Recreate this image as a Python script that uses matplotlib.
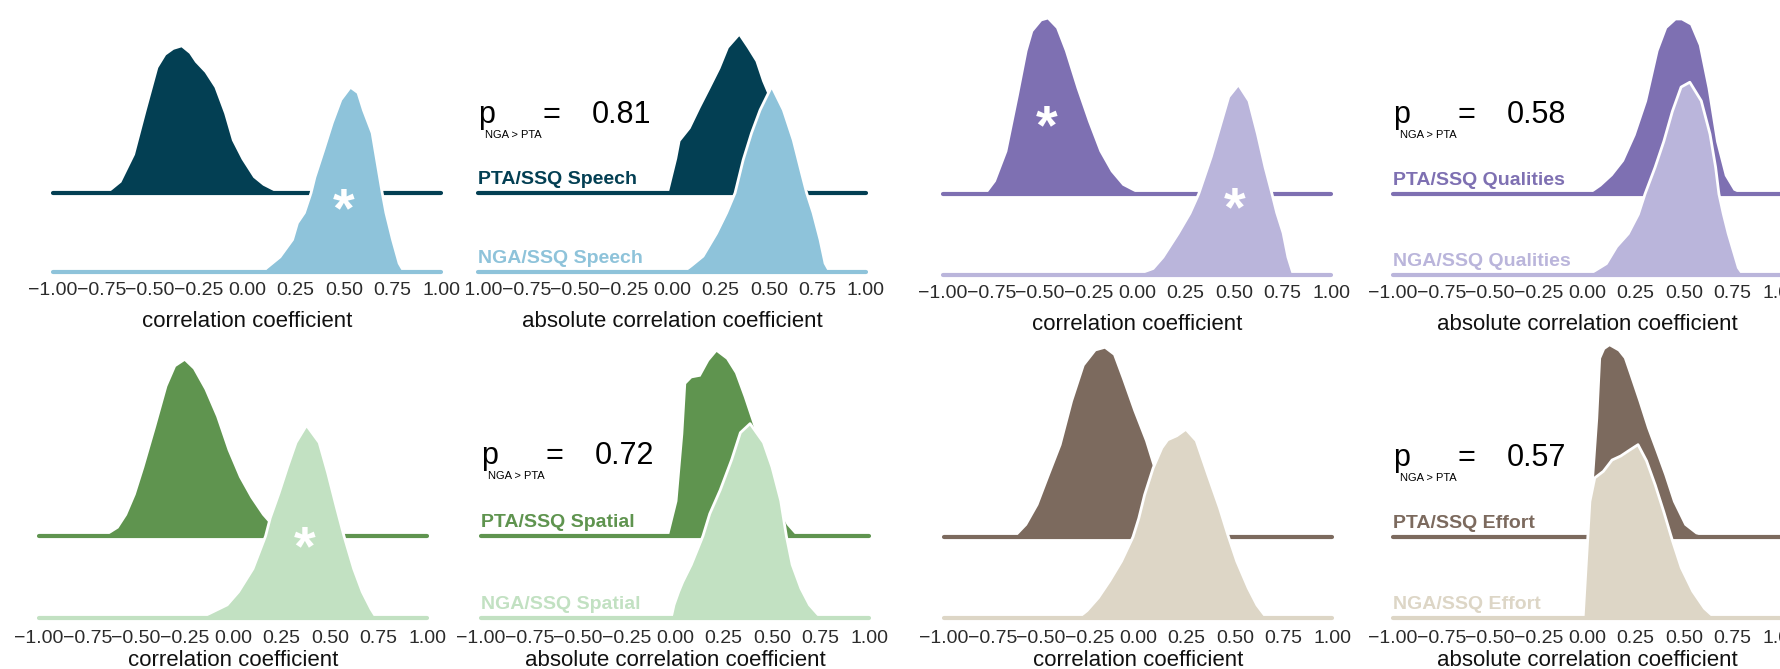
import matplotlib.pyplot as plt
from matplotlib.transforms import Bbox, offset_copy

plt.rcParams['font.family'] = ['Liberation Sans', 'DejaVu Sans']

# ---- densities (x, scaled density; 1 = ridge spacing) ----
# Speech
speech_r_pta_x = [-0.72, -0.65, -0.58, -0.52, -0.46, -0.42, -0.38, -0.34, -0.30, -0.27, -0.22, -0.17, -0.12, -0.08, -0.03, 0.03, 0.08, 0.16]
speech_r_pta_y = [0, .14, .49, 1.05, 1.59, 1.75, 1.82, 1.85, 1.77, 1.66, 1.53, 1.34, 1.01, .67, .43, .20, .10, 0]
speech_r_nga_x = [0.08, 0.10, 0.17, 0.235, 0.26, 0.296, 0.33, 0.35, 0.395, 0.44, 0.484, 0.533, 0.572, 0.60, 0.645, 0.697, 0.716, 0.75, 0.784, 0.81]
speech_r_nga_y = [0, .05, .19, .41, .62, .75, 1.0, 1.2, 1.54, 1.89, 2.18, 2.34, 2.27, 2.05, 1.76, 1.0, .75, .41, .11, 0]
speech_abs_pta_x = [-0.02, 0.024, 0.041, 0.093, 0.144, 0.196, 0.247, 0.29, 0.344, 0.385, 0.428, 0.462, 0.5, 0.55, 0.6, 0.65, 0.694, 0.72]
speech_abs_pta_y = [0, .44, .66, .82, 1.08, 1.33, 1.58, 1.84, 1.99, 1.84, 1.67, 1.42, 1.2, .86, .51, .19, .04, 0]
speech_abs_nga_x = [0.057, 0.10, 0.16, 0.23, 0.282, 0.325, 0.367, 0.41, 0.454, 0.514, 0.574, 0.625, 0.668, 0.694, 0.727, 0.763, 0.789, 0.814]
speech_abs_nga_y = [0, .08, .2, .49, .75, 1.0, 1.42, 1.76, 2.05, 2.35, 2.05, 1.67, 1.25, 1.0, .75, .41, .11, 0]

# Qualities
qual_r_pta_x = [-0.78, -0.73, -0.671, -0.612, -0.567, -0.538, -0.493, -0.463, -0.419, -0.374, -0.314, -0.255, -0.196, -0.137, -0.077, 0.012]
qual_r_pta_y = [0, .16, .53, 1.22, 1.77, 2.01, 2.14, 2.16, 2.05, 1.77, 1.31, .9, .53, .28, .11, 0]
qual_r_nga_x = [-0.1, 0.015, 0.083, 0.134, 0.212, 0.273, 0.318, 0.383, 0.428, 0.473, 0.523, 0.577, 0.621, 0.66, 0.696, 0.72, 0.753, 0.778, 0.804, 0.83]
qual_r_nga_y = [0, .02, .08, .22, .51, .76, 1.0, 1.46, 1.83, 2.2, 2.35, 2.15, 1.74, 1.33, 1.0, .77, .52, .22, .02, 0]
qual_abs_pta_x = [0.01, 0.07, 0.129, 0.188, 0.248, 0.307, 0.366, 0.41, 0.456, 0.485, 0.53, 0.574, 0.619, 0.663, 0.708, 0.753, 0.797]
qual_abs_pta_y = [0, .1, .23, .41, .73, 1.15, 1.77, 2.05, 2.15, 2.15, 2.09, 1.84, 1.31, .65, .23, .05, 0]
qual_abs_nga_x = [-0.002, 0.032, 0.1, 0.153, 0.213, 0.265, 0.299, 0.351, 0.396, 0.44, 0.485, 0.53, 0.589, 0.634, 0.663, 0.68, 0.703, 0.728, 0.754, 0.78, 0.806]
qual_abs_nga_y = [0, .04, .14, .35, .51, .75, 1.0, 1.33, 1.65, 2.02, 2.32, 2.38, 2.15, 1.74, 1.33, 1.0, .75, .51, .3, .09, 0]

# Spatial
spat_r_pta_x = [-0.66, -0.593, -0.549, -0.504, -0.46, -0.40, -0.341, -0.297, -0.252, -0.208, -0.149, -0.089, -0.03, 0.029, 0.088, 0.148, 0.2, 0.25, 0.3, 0.35]
spat_r_pta_y = [0, .1, .26, .51, .84, 1.33, 1.83, 2.07, 2.14, 2.04, 1.79, 1.46, 1.05, .72, .47, .26, .12, .05, .01, 0]
spat_r_nga_x = [-0.19, -0.134, -0.03, 0.029, 0.103, 0.168, 0.192, 0.237, 0.281, 0.325, 0.379, 0.444, 0.488, 0.533, 0.572, 0.622, 0.666, 0.711, 0.74]
spat_r_nga_y = [0, .04, .16, .32, .6, 1.0, 1.22, 1.52, 1.84, 2.14, 2.35, 2.14, 1.77, 1.35, 1.0, .6, .32, .11, 0]
spat_abs_pta_x = [-0.035, 0.01, 0.04, 0.055, 0.084, 0.129, 0.173, 0.212, 0.262, 0.307, 0.352, 0.4, 0.45, 0.5, 0.55, 0.574, 0.619, 0.66]
spat_abs_pta_y = [0, .43, 1.25, 1.86, 1.93, 1.95, 2.14, 2.25, 2.16, 1.99, 1.7, 1.36, .99, .62, .25, .14, .02, 0]
spat_abs_nga_x = [-0.02, -0.005, 0.019, 0.04, 0.084, 0.144, 0.179, 0.233, 0.292, 0.337, 0.387, 0.456, 0.5, 0.545, 0.574, 0.604, 0.649, 0.693, 0.738, 0.77]
spat_abs_nga_y = [0, .16, .32, .44, .65, 1.0, 1.27, 1.56, 1.93, 2.26, 2.37, 2.14, 1.84, 1.43, 1.0, .65, .36, .16, .04, 0]

# Effort
eff_r_pta_x = [-0.635, -0.575, -0.516, -0.457, -0.397, -0.338, -0.278, -0.219, -0.174, -0.13, -0.085, -0.026, 0.034, 0.078, 0.1, 0.15, 0.2, 0.25, 0.3, 0.35, 0.4, 0.47]
eff_r_pta_y = [0, .15, .4, .77, 1.14, 1.68, 2.12, 2.3, 2.33, 2.25, 1.96, 1.56, 1.19, .85, .74, .52, .35, .22, .12, .06, .02, 0]
eff_r_nga_x = [-0.31, -0.263, -0.204, -0.145, -0.085, -0.026, 0.004, 0.034, 0.078, 0.123, 0.153, 0.2, 0.247, 0.30, 0.36, 0.42, 0.464, 0.509, 0.568, 0.613, 0.657, 0.69]
eff_r_nga_y = [0, .09, .25, .46, .7, 1.0, 1.23, 1.52, 1.85, 2.1, 2.2, 2.25, 2.33, 2.19, 1.77, 1.36, 1.02, .7, .37, .16, .02, 0]
eff_abs_pta_x = [-0.005, 0.025, 0.055, 0.07, 0.09, 0.114, 0.158, 0.188, 0.218, 0.263, 0.307, 0.352, 0.396, 0.441, 0.5, 0.559, 0.62]
eff_abs_pta_y = [0, .44, 1.47, 2.21, 2.32, 2.36, 2.3, 2.21, 2.0, 1.68, 1.35, 1.06, .77, .44, .15, .04, 0]
eff_abs_nga_x = [-0.02, -0.005, 0.015, 0.04, 0.084, 0.129, 0.174, 0.218, 0.263, 0.307, 0.352, 0.396, 0.441, 0.486, 0.545, 0.605, 0.66]
eff_abs_nga_y = [0, .62, 1.44, 1.73, 1.81, 1.95, 2.0, 2.07, 2.14, 1.94, 1.64, 1.31, .95, .62, .33, .12, 0]

domains = ['Speech', 'Qualities', 'Spatial', 'Effort']
p_values = ['0.81', '0.58', '0.72', '0.57']
dark_colors = ['#033F53', '#7E70B2', '#5F944F', '#7C6A5E']
light_colors = ['#8EC3DA', '#BAB5DB', '#C2E1C2', '#DDD6C6']

tick_vals = [-1, -0.75, -0.5, -0.25, 0, 0.25, 0.5, 0.75, 1]
tick_labels = ['\u22121.00', '\u22120.75', '\u22120.50', '\u22120.25', '0.00', '0.25', '0.50', '0.75', '1.00']

W, H = 1780, 669
fig = plt.figure(figsize=(W / 100, H / 100), dpi=100)
fig.patch.set_facecolor('white')


def make_axes(left, upper, lower, top, pad, lab_off, xlabel):
    sp = lower - upper
    ax = fig.add_axes([left / W, 1 - lower / H, 388 / W, (lower - top) / H])
    ax.patch.set_alpha(0)
    ax.set_xlim(-1, 1)
    ax.set_ylim(0, (lower - top) / sp)
    for s in ax.spines.values():
        s.set_visible(False)
    ax.set_yticks([])
    ax.set_xticks(tick_vals)
    ax.set_xticklabels(tick_labels, fontsize=14, color='#2b2b2b')
    ax.tick_params(axis='x', length=0, pad=pad)
    ax.set_xlabel(xlabel, fontsize=16, color='#111111')
    ax.xaxis.set_label_coords(0.5, -lab_off / (lower - top))
    ax.xaxis.label.set_va('baseline')
    return ax


def draw_pair(ax, px, py, nx, ny, dark, light):
    # upper ridge (PTA)
    ax.fill_between(px, 1, [1 + v for v in py], color=dark, lw=0, zorder=1)
    ax.plot([-1, 1], [1, 1], color=dark, lw=3, solid_capstyle='round', zorder=2, clip_on=False)
    # lower ridge (NGA) on top, with white outline
    ax.fill_between(nx, 0, ny, color=light, lw=0, zorder=3)
    ax.plot(nx, ny, color='white', lw=2, zorder=4)
    ax.plot([-1, 1], [0, 0], color=light, lw=3, solid_capstyle='round', zorder=5, clip_on=False)


def star(ax, x, y):
    fs = 40
    tr = offset_copy(ax.transData, fig=fig, y=-0.58 * fs, units='points')
    ax.text(x, y, '*', fontsize=fs, fontweight='bold', color='white', ha='center',
            va='baseline', transform=tr, zorder=6)


def p_text(ax, dom, pv, dark, light):
    ax.text(-1, 1.88, 'p', fontsize=22, color='black', ha='left', va='baseline', zorder=7)
    ax.text(-0.962, 1.69, 'NGA > PTA', fontsize=8, color='black', ha='left', va='baseline', zorder=7)
    ax.text(-0.665, 1.88, '=', fontsize=22, color='black', ha='left', va='baseline', zorder=7)
    ax.text(-0.415, 1.88, pv, fontsize=22, color='black', ha='left', va='baseline', zorder=7)
    ax.text(-1, 1.11, 'PTA/SSQ ' + dom, fontsize=14, fontweight='bold', color=dark,
            ha='left', va='baseline', zorder=7)
    ax.text(-1, 0.11, 'NGA/SSQ ' + dom, fontsize=14, fontweight='bold', color=light,
            ha='left', va='baseline', zorder=7)


curves = [
    (speech_r_pta_x, speech_r_pta_y, speech_r_nga_x, speech_r_nga_y,
     speech_abs_pta_x, speech_abs_pta_y, speech_abs_nga_x, speech_abs_nga_y),
    (qual_r_pta_x, qual_r_pta_y, qual_r_nga_x, qual_r_nga_y,
     qual_abs_pta_x, qual_abs_pta_y, qual_abs_nga_x, qual_abs_nga_y),
    (spat_r_pta_x, spat_r_pta_y, spat_r_nga_x, spat_r_nga_y,
     spat_abs_pta_x, spat_abs_pta_y, spat_abs_nga_x, spat_abs_nga_y),
    (eff_r_pta_x, eff_r_pta_y, eff_r_nga_x, eff_r_nga_y,
     eff_abs_pta_x, eff_abs_pta_y, eff_abs_nga_x, eff_abs_nga_y),
]

# pixel layout of the 4 blocks: (left of r panel, left of abs panel, upper, lower, top, pad, label offset)
layout = [
    (53, 478, 193, 272, 4, 7.0, 55),
    (943, 1393, 194, 275, 4, 7.0, 55),
    (39, 481, 536, 618, 338, 8.5, 48),
    (944, 1393, 537, 618, 338, 8.5, 48),
]

axes = []
for i in range(4):
    c = curves[i]
    lr, la, up, lo, top, pad, off = layout[i]
    ax_r = make_axes(lr, up, lo, top, pad, off, 'correlation coefficient')
    draw_pair(ax_r, c[0], c[1], c[2], c[3], dark_colors[i], light_colors[i])
    ax_a = make_axes(la, up, lo, top, pad, off, 'absolute correlation coefficient')
    draw_pair(ax_a, c[4], c[5], c[6], c[7], dark_colors[i], light_colors[i])
    p_text(ax_a, domains[i], p_values[i], dark_colors[i], light_colors[i])
    axes.append((ax_r, ax_a))

# significance stars
star(axes[0][0], 0.50, 0.99)
star(axes[1][0], -0.464, 2.02)
star(axes[1][0], 0.505, 1.01)
star(axes[2][0], 0.37, 1.05)

# the minus of the first label in the top absolute panel is hidden in the original
lab0 = axes[0][1].get_xticklabels()[0]
lab0.set_clip_on(True)
lab0.set_clip_box(Bbox.from_extents(465.5, 0, W, H))

fig.savefig('out.png', dpi=100, facecolor='white')
